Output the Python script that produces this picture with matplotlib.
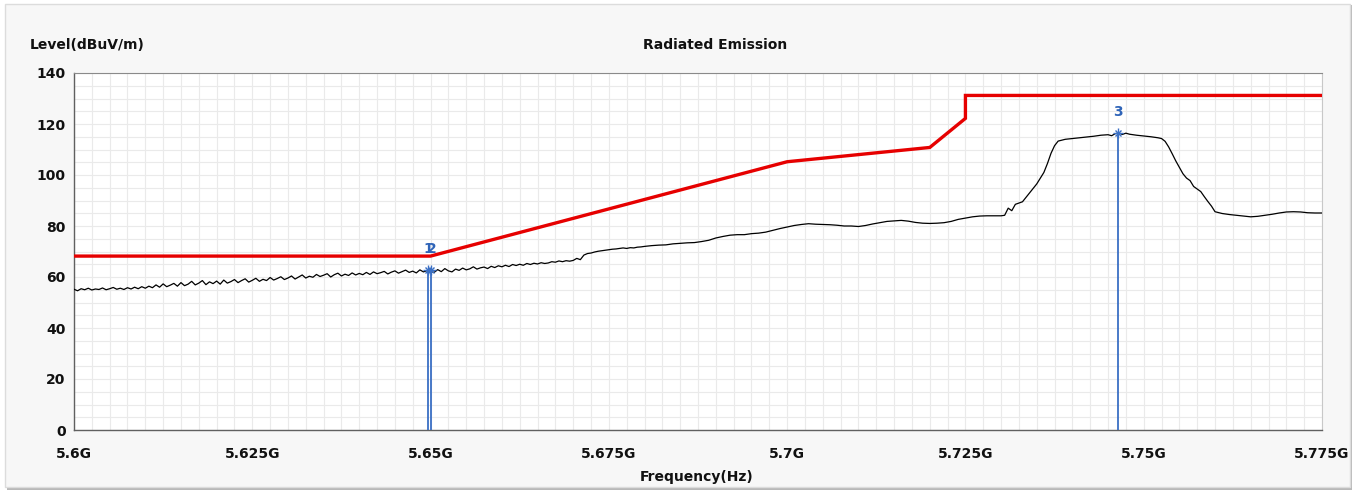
import numpy as np
import matplotlib
matplotlib.use("Agg")
import matplotlib.pyplot as plt
from matplotlib.patches import Rectangle
from matplotlib.ticker import MultipleLocator

# Limit line (MHz, dBuV/m)
LIMIT_FREQ = [5600, 5650, 5700, 5720, 5725, 5725, 5775]
LIMIT_LEVEL = [68.2, 68.2, 105.2, 110.8, 122.2, 131.2, 131.2]

# Measured trace: noisy part at 0.5 MHz steps (5600 .. 5679.5)
NOISE_LEVEL = [
    55.2, 54.6, 55.4, 55.0, 55.6, 54.9, 55.3, 55.1, 55.7, 55.0,
    55.4, 55.9, 55.2, 55.6, 55.1, 55.8, 55.3, 56.0, 55.4, 56.2,
    55.6, 56.4, 55.8, 56.9, 56.0, 57.3, 56.2, 56.8, 57.5, 56.4,
    57.8, 56.6, 57.2, 58.3, 56.9, 57.6, 58.6, 57.0, 58.1, 57.4,
    58.4, 57.2, 58.8, 57.6, 58.2, 59.0, 57.8, 58.6, 59.3, 58.0,
    58.7, 59.5, 58.3, 59.1, 58.6, 59.8, 58.8, 59.4, 60.1, 59.0,
    59.6, 60.4, 59.2, 60.0, 60.8, 59.6, 60.3, 59.9, 61.0, 60.2,
    60.7, 61.3, 60.0, 60.9, 61.5, 60.4, 61.1, 60.6, 61.6, 60.8,
    61.4, 60.9, 61.8, 61.0, 62.0, 61.3, 61.7, 62.2, 61.2, 61.9,
    62.4, 61.5, 62.1, 62.7, 61.8, 62.3, 61.6, 62.8, 62.0, 62.5,
    62.2, 61.8, 62.9, 62.1, 63.3, 62.4, 62.0, 63.1, 62.6, 63.5,
    62.8, 63.2, 64.0, 63.1, 63.6, 63.9, 63.3, 64.2, 63.7, 64.4,
    64.0, 64.6, 64.1, 64.9, 64.5, 65.0, 64.6, 65.3, 64.9, 65.4,
    65.1, 65.6, 65.3, 65.5, 66.0, 65.8, 66.3, 66.0, 66.4, 66.2,
    66.5, 67.3, 66.8, 68.6, 69.2, 69.4, 69.8, 70.1, 70.3, 70.5,
    70.7, 70.9, 71.0, 71.2, 71.4, 71.2, 71.5, 71.4, 71.7, 71.8,
]

# Smoother part of the trace (MHz, dBuV/m)
TRACE_FREQ = [
    5680, 5681, 5682, 5683, 5684, 5685, 5686, 5687, 5688, 5689,
    5690, 5691, 5692, 5693, 5694, 5695, 5696, 5697, 5698, 5699,
    5700, 5701, 5702, 5703, 5704, 5705, 5706, 5707, 5708, 5709,
    5710, 5711, 5712, 5713, 5714, 5715, 5716, 5717, 5718, 5719,
    5720, 5721, 5722, 5723, 5724, 5725, 5726, 5727, 5728, 5729,
    5730, 5730.5, 5731, 5731.5, 5732, 5733, 5734, 5735, 5736, 5736.5,
    5737, 5737.5, 5738, 5739, 5740, 5741, 5742, 5743, 5744, 5745,
    5745.5, 5746, 5746.5, 5747, 5747.5, 5748, 5749, 5750, 5751, 5752,
    5752.5, 5753, 5753.5, 5754, 5754.5, 5755, 5755.5, 5756, 5756.5, 5757,
    5758, 5758.5, 5759, 5759.5, 5760, 5761, 5762, 5763, 5764, 5765,
    5766, 5767, 5768, 5769, 5770, 5771, 5772, 5773, 5774, 5775,
]
TRACE_LEVEL = [
    72.0, 72.3, 72.5, 72.6, 73.0, 73.2, 73.4, 73.5, 73.9, 74.4,
    75.3, 75.9, 76.4, 76.6, 76.6, 77.0, 77.2, 77.6, 78.3, 79.0,
    79.6, 80.2, 80.6, 80.9, 80.7, 80.6, 80.5, 80.3, 80.0, 80.0,
    79.8, 80.2, 80.8, 81.3, 81.8, 82.0, 82.2, 81.9, 81.4, 81.1,
    81.0, 81.1, 81.3, 81.8, 82.6, 83.1, 83.6, 83.9, 84.0, 84.0,
    84.0, 84.2, 87.0, 86.0, 88.5, 89.5, 93.0, 96.5, 101.0, 104.5,
    108.5, 111.5, 113.3, 114.0, 114.3, 114.6, 114.9, 115.2, 115.6, 115.8,
    115.4, 116.2, 116.5, 115.9, 116.4, 116.0, 115.6, 115.3, 115.0, 114.6,
    114.3, 113.2, 111.0, 108.3, 105.5, 103.0, 100.5, 98.8, 97.8, 95.5,
    93.5, 91.5, 89.6, 87.8, 85.6, 84.9, 84.5, 84.2, 83.9, 83.6,
    83.8, 84.2, 84.6, 85.1, 85.5, 85.6, 85.5, 85.2, 85.1, 85.1,
]

# Markers
MARKER_LABELS = ["1", "2", "3"]
MARKER_FREQ = [5649.7, 5650.1, 5746.4]
MARKER_LEVEL = [62.6, 62.9, 116.5]

Y_TICKS = [0, 20, 40, 60, 80, 100, 120, 140]
X_TICKS = [5600, 5625, 5650, 5675, 5700, 5725, 5750, 5775]
X_TICK_LABELS = ["5.6G", "5.625G", "5.65G", "5.675G", "5.7G", "5.725G", "5.75G", "5.775G"]

noise_freq = 5600 + 0.5 * np.arange(len(NOISE_LEVEL))
freq = np.concatenate([noise_freq, TRACE_FREQ])
level = np.concatenate([NOISE_LEVEL, TRACE_LEVEL])

W, H = 1361, 493
fig = plt.figure(figsize=(W / 100, H / 100), dpi=100)
fig.patch.set_facecolor("white")

# panel background with a soft shadow on the bottom/right
fig.patches.append(Rectangle((7 / W, 1 - 490 / H), 1345 / W, 485 / H, transform=fig.transFigure,
                             facecolor="#b8b8b8", edgecolor="none", zorder=-3))
fig.patches.append(Rectangle((5 / W, 1 - 487 / H), 1345 / W, 483 / H, transform=fig.transFigure,
                             facecolor="#f7f7f7", edgecolor="#dcdcdc", lw=1, zorder=-2))

ax = fig.add_axes([74 / W, 1 - 430 / H, 1248 / W, 357 / H])
ax.set_facecolor("white")

ax.plot(freq, level, color="black", lw=0.9, zorder=3)
ax.plot(LIMIT_FREQ, LIMIT_LEVEL, color="#e60000", lw=2.4, zorder=4, solid_joinstyle="miter")

for lab, f, l in zip(MARKER_LABELS, MARKER_FREQ, MARKER_LEVEL):
    ax.vlines(f, 0, l, color="#3a6fc4", lw=1.3, zorder=5)
    ax.plot(f, l, marker="x", ms=5, mew=1.0, color="#3a6fc4", zorder=6)
    ax.plot(f, l, marker="+", ms=7, mew=1.0, color="#3a6fc4", zorder=6)
    ax.text(f, l + 5.5, lab, color="#2f64b8", fontsize=10, fontweight="bold",
            ha="center", va="bottom", zorder=6)

ax.set_xlim(5600, 5775)
ax.set_ylim(0, 140)
ax.set_xticks(X_TICKS)
ax.set_xticklabels(X_TICK_LABELS)
ax.set_yticks(Y_TICKS)
ax.xaxis.set_minor_locator(MultipleLocator(2.5))
ax.yaxis.set_minor_locator(MultipleLocator(5))
ax.grid(which="both", color="#eaeaea", lw=0.8, zorder=0)
ax.tick_params(which="both", length=0)
ax.tick_params(axis="x", pad=12)
ax.tick_params(axis="y", pad=6)
for t in ax.get_xticklabels() + ax.get_yticklabels():
    t.set_fontweight("bold")
    t.set_fontsize(10)
    t.set_color("#111111")

for side in ["left", "bottom"]:
    ax.spines[side].set_color("#606060")
    ax.spines[side].set_linewidth(1.0)
ax.spines["top"].set_color("#8a8a8a")
ax.spines["right"].set_color("#c8c8c8")

fig.text(30 / W, 1 - 45 / H, "Level(dBuV/m)", fontsize=10, fontweight="bold",
         ha="left", va="center", color="#111111")
fig.text(715 / W, 1 - 45 / H, "Radiated Emission", fontsize=10, fontweight="bold",
         ha="center", va="center", color="#111111")
fig.text(697 / W, 1 - 477 / H, "Frequency(Hz)", fontsize=10, fontweight="bold",
         ha="center", va="center", color="#111111")

fig.savefig("out.png", dpi=100)
